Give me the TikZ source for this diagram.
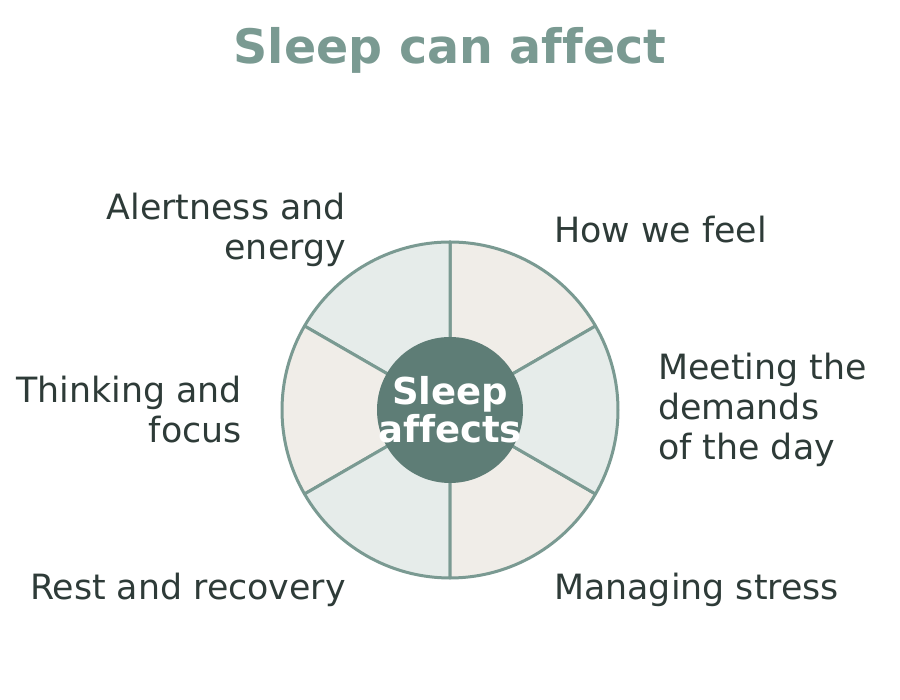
\documentclass[tikz,border=0pt]{standalone}
\usepackage{fontspec}
\setmainfont{DejaVu Sans}[Ligatures=NoCommon]
\usetikzlibrary{calc}
\definecolor{titlec}{HTML}{7A9A92}
\definecolor{strokec}{HTML}{7A9A92}
\definecolor{innerc}{HTML}{5E7D76}
\definecolor{beigec}{HTML}{F0EDE8}
\definecolor{lightc}{HTML}{E6ECEA}
\definecolor{textc}{HTML}{2E3B38}
\tikzset{
  sector/.style={draw=strokec, line width=3pt, line join=round},
  lbl/.style={inner sep=0pt, text=textc, font=\fontsize{34.8}{40}\selectfont},
  lblL/.style={lbl, anchor=east, align=right},
  lblR/.style={lbl, anchor=west, align=left},
}
\begin{document}
\begin{tikzpicture}[x=1pt,y=1pt]
\useasboundingbox (0,0) rectangle (900,700);
\coordinate (c) at (450,290);
\node[text=titlec, font=\fontsize{47.5}{54}\selectfont\bfseries, inner sep=0pt] (title) at (450,650) {Sleep can affect};
% sectors
\foreach \a/\col in {30/beigec, 90/lightc, 150/beigec, 210/lightc, 270/beigec, 330/lightc}{
  \filldraw[sector, fill=\col] (c) -- ++(\a:168) arc[start angle=\a, end angle=\a+60, radius=168] -- cycle;
}
\fill[innerc] (c) circle[radius=73];
\node[inner sep=0pt, text=white, align=center,
  font=\fontsize{37}{38}\selectfont\bfseries] (hub) at (c) {Sleep\\affects};
% labels
\node[lblR] (feel) at ($(c)+(60:208)$) {How we feel};
\node[lblL] (alert) at ($(c)+(120:208)$) {Alertness and\\energy};
\node[lblR] (meet) at ($(c)+(0:208)$) {Meeting the\\demands\\of the day};
\node[lblL] (think) at ($(c)+(180:208)$) {Thinking and\\focus};
\node[lblL] (rest) at ($(c)+(240:208)$) {Rest and recovery};
\node[lblR] (stress) at ($(c)+(300:208)$) {Managing stress};
\end{tikzpicture}
\end{document}
